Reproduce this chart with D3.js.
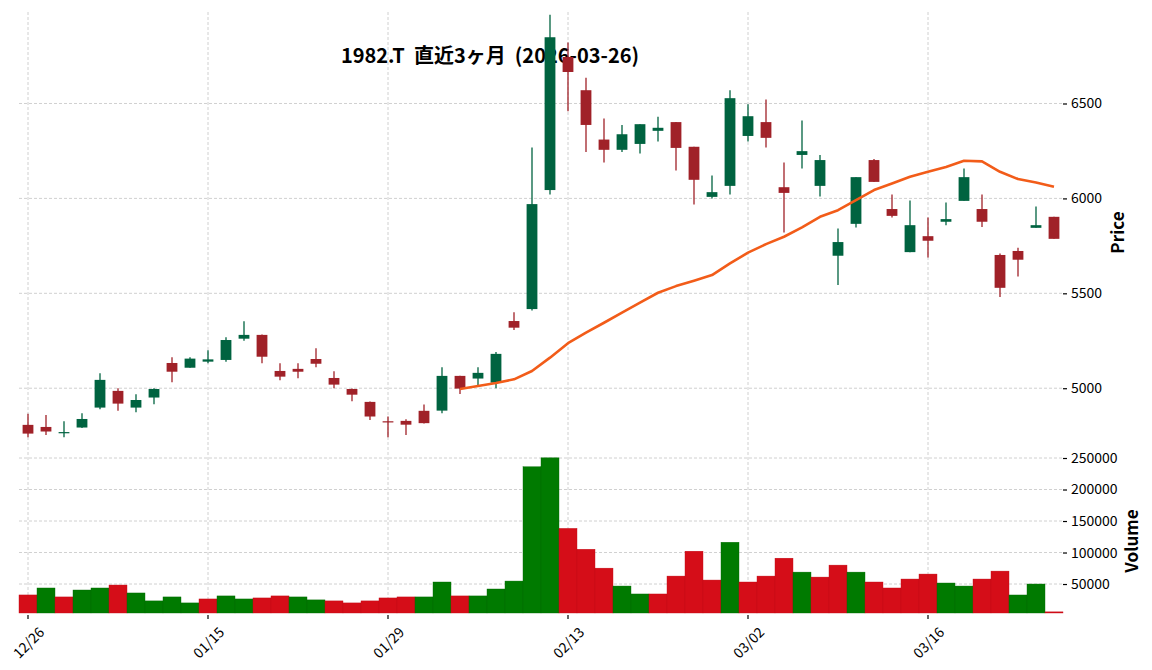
<!DOCTYPE html>
<html>
<head>
<meta charset="utf-8">
<script src="https://cdn.jsdelivr.net/npm/d3@7"></script>
<style>
  body { margin: 0; background: #fff; }
  text { font-family: "Noto Sans CJK JP", "Noto Sans", sans-serif; }
</style>
</head>
<body>
<div id="graph"></div>
<script>
// daily data
const dates = ["12/26","12/29","12/30","01/05","01/06","01/07","01/08","01/09","01/13","01/14",
  "01/15","01/16","01/19","01/20","01/21","01/22","01/23","01/26","01/27","01/28",
  "01/29","01/30","02/02","02/03","02/04","02/05","02/06","02/09","02/10","02/12",
  "02/13","02/16","02/17","02/18","02/19","02/20","02/24","02/25","02/26","02/27",
  "03/02","03/03","03/04","03/05","03/06","03/09","03/10","03/11","03/12","03/13",
  "03/16","03/17","03/18","03/19","03/23","03/24","03/25","03/26"];
const opens = [4807,4796,4766,4793,4898,4986,4898,4951,5133,5108,
  5140,5149,5261,5281,5091,5102,5154,5054,4996,4928,
  4826,4828,4881,4882,5065,5051,5029,5354,5417,6044,
  6745,6570,6310,6256,6287,6356,6402,6272,6008,6066,
  6329,6402,6059,6229,6066,5698,5866,6202,5944,5717,
  5801,5877,5987,5944,5702,5723,5845,5903];
const highs = [4865,4859,4826,4868,5079,5000,4968,5000,5163,5163,
  5200,5268,5353,5283,5132,5132,5211,5089,4998,4930,
  4851,4837,4914,5110,5066,5110,5191,5400,6268,6968,
  6821,6635,6421,6387,6391,6430,6402,6272,6121,6570,
  6496,6521,6189,6410,6229,5842,6112,6208,6021,5989,
  5900,5979,6158,6021,5710,5740,5958,5903];
const lows = [4742,4753,4742,4790,4889,4881,4874,4916,5032,5108,
  5132,5140,5250,5132,5042,5053,5111,5000,4932,4833,
  4742,4753,4814,4868,4970,5016,5000,5307,5410,6021,
  6459,6245,6189,6245,6237,6300,6147,5968,6000,6021,
  6300,6268,5821,6158,6010,5544,5847,6087,5900,5717,
  5689,5858,5987,5849,5480,5589,5845,5787];
const closes = [4761,4772,4769,4838,5044,4919,4938,4996,5087,5156,
  5152,5254,5281,5166,5061,5087,5129,5019,4966,4851,
  4822,4808,4816,5065,4998,5081,5181,5319,5970,6849,
  6666,6387,6256,6338,6391,6372,6266,6098,6033,6528,
  6433,6319,6029,6249,6202,5770,6112,6087,5908,5859,
  5777,5891,6112,5877,5529,5677,5859,5787];
const volumes = [32650,43700,29500,40500,43700,48400,35800,23200,29500,20000,
  26300,31100,26300,27900,31100,29500,24800,23200,20000,23200,
  27900,29500,29500,53200,31100,31100,42100,54700,236100,250300,
  138300,105200,75200,46800,34200,34200,62600,102100,56300,116300,
  53200,62600,91000,68900,61000,80000,68900,53200,43700,57900,
  65800,51600,46800,57900,70500,32600,50000,5800];
// 25-day moving average as drawn (first 24 days empty)
const ma25 = [null,null,null,null,null,null,null,null,null,null,
  null,null,null,null,null,null,null,null,null,null,
  null,null,null,null,4996,5012,5028,5047,5091,5161,
  5237,5293,5345,5398,5451,5503,5538,5566,5596,5658,
  5714,5759,5798,5847,5903,5938,5991,6044,6079,6114,
  6140,6166,6198,6195,6140,6102,6084,6061];
const priceTicks = [5000, 5500, 6000, 6500];
const volTicks = [50000, 100000, 150000, 200000, 250000];
const xTickIdx = [0, 10, 20, 30, 40, 50];
const titleText = "1982.T  直近3ヶ月  (2026-03-26)";

const upColor = "#006340", downColor = "#A02128";
const volUpColor = "#007a00", volDownColor = "#d50d18";
const maColor = "#f25c19";
const gridColor = "#c4c4c4";

const width = 1152, height = 670;
const plot = {left: 19, right: 1063, top: 12, mid: 441, bottom: 613};

const svg = d3.select("#graph")
  .append("svg")
  .attr("width", width)
  .attr("height", height)

const xScale = d3.scaleLinear()
  .domain([-0.5, dates.length - 0.5])
  .range([plot.left, plot.right])

const yScale = d3.scaleLinear()
  .domain([4722, 6982])
  .range([plot.mid, plot.top])

const vScale = d3.scaleLinear()
  .domain([4000, 277000])
  .range([plot.bottom, plot.mid])

const step = xScale(1) - xScale(0);

// grid
const grid = svg.append("g").attr("class", "grid")
grid.selectAll(".vgrid")
  .data(xTickIdx)
  .enter()
  .append("line")
  .attr("x1", d => xScale(d)).attr("x2", d => xScale(d))
  .attr("y1", plot.top).attr("y2", plot.bottom)
  .attr("stroke", gridColor).attr("stroke-width", 0.8).attr("stroke-dasharray", "3,2")
grid.selectAll(".pgrid")
  .data(priceTicks)
  .enter()
  .append("line")
  .attr("x1", plot.left).attr("x2", plot.right)
  .attr("y1", d => yScale(d)).attr("y2", d => yScale(d))
  .attr("stroke", gridColor).attr("stroke-width", 0.8).attr("stroke-dasharray", "3,2")
grid.selectAll(".vlgrid")
  .data(volTicks)
  .enter()
  .append("line")
  .attr("x1", plot.left).attr("x2", plot.right)
  .attr("y1", d => vScale(d)).attr("y2", d => vScale(d))
  .attr("stroke", gridColor).attr("stroke-width", 0.8).attr("stroke-dasharray", "3,2")

// title (sits under the candles)
svg.append("text")
  .attr("x", 490)
  .attr("y", 63)
  .attr("text-anchor", "middle")
  .attr("font-size", 20)
  .attr("font-weight", "bold")
  .style("white-space", "pre")
  .text(titleText)

// volume bars, coloured by change from previous close
svg.append("g")
  .selectAll("rect")
  .data(volumes)
  .enter()
  .append("rect")
  .attr("x", (d, i) => xScale(i) - step / 2)
  .attr("width", step)
  .attr("y", d => vScale(d))
  .attr("height", d => plot.bottom - vScale(d))
  .attr("fill", (d, i) => (i > 0 && closes[i] > closes[i - 1]) ? volUpColor : volDownColor)
  .attr("stroke", (d, i) => (i > 0 && closes[i] > closes[i - 1]) ? "#006a00" : "#c00a14")
  .attr("stroke-width", 0.4)

// candles
const candles = svg.append("g")
  .selectAll("g")
  .data(dates.map((d, i) => i))
  .enter()
  .append("g")

candles.append("line")
  .attr("x1", i => xScale(i)).attr("x2", i => xScale(i))
  .attr("y1", i => yScale(highs[i])).attr("y2", i => yScale(lows[i]))
  .attr("stroke", i => closes[i] >= opens[i] ? upColor : downColor)
  .attr("stroke-width", 1.3)

candles.append("rect")
  .attr("x", i => xScale(i) - step * 0.3)
  .attr("width", step * 0.6)
  .attr("y", i => yScale(Math.max(opens[i], closes[i])))
  .attr("height", i => Math.max(1.2, Math.abs(yScale(opens[i]) - yScale(closes[i]))))
  .attr("fill", i => closes[i] >= opens[i] ? upColor : downColor)

// moving average
const maLine = d3.line()
  .defined(d => d != null)
  .x((d, i) => xScale(i))
  .y(d => yScale(d))

svg.append("path")
  .datum(ma25)
  .attr("d", maLine)
  .attr("fill", "none")
  .attr("stroke", maColor)
  .attr("stroke-width", 2.6)
  .attr("stroke-linejoin", "round")

// right axes
const priceAxis = svg.append("g")
  .attr("transform", `translate(${plot.right}, 0)`)
  .call(d3.axisRight(yScale).tickValues(priceTicks).tickSize(4).tickPadding(4).tickFormat(d3.format("d")))
const volAxis = svg.append("g")
  .attr("transform", `translate(${plot.right}, 0)`)
  .call(d3.axisRight(vScale).tickValues(volTicks).tickSize(4).tickPadding(4).tickFormat(d3.format("d")))
;[priceAxis, volAxis].forEach(ax => {
  ax.select(".domain").remove()
  ax.selectAll("text").attr("font-size", 14).attr("fill", "#000")
    .style("font-family", "'Noto Sans CJK JP', 'Noto Sans', sans-serif")
  ax.selectAll("line").attr("stroke", "#000").attr("stroke-width", 1.2)
})

// x ticks
const xAxis = svg.append("g")
xAxis.selectAll("line")
  .data(xTickIdx)
  .enter()
  .append("line")
  .attr("x1", d => xScale(d)).attr("x2", d => xScale(d))
  .attr("y1", plot.bottom + 2).attr("y2", plot.bottom + 6)
  .attr("stroke", "#000").attr("stroke-width", 1.2)
xAxis.selectAll("text")
  .data(xTickIdx)
  .enter()
  .append("text")
  .attr("transform", d => `translate(${xScale(d)}, ${plot.bottom + 29}) rotate(-45)`)
  .attr("text-anchor", "middle")
  .attr("dominant-baseline", "central")
  .attr("font-size", 14)
  .text(d => dates[d])

// axis labels
svg.append("text")
  .attr("transform", `translate(${1124}, ${(plot.top + plot.mid) / 2 + 6}) rotate(-90)`)
  .attr("text-anchor", "middle")
  .attr("font-size", 17)
  .attr("font-weight", "bold")
  .text("Price")
svg.append("text")
  .attr("transform", `translate(${1138}, ${(plot.mid + plot.bottom) / 2 + 14}) rotate(-90)`)
  .attr("text-anchor", "middle")
  .attr("font-size", 17)
  .attr("font-weight", "bold")
  .text("Volume")
</script>
</body>
</html>
